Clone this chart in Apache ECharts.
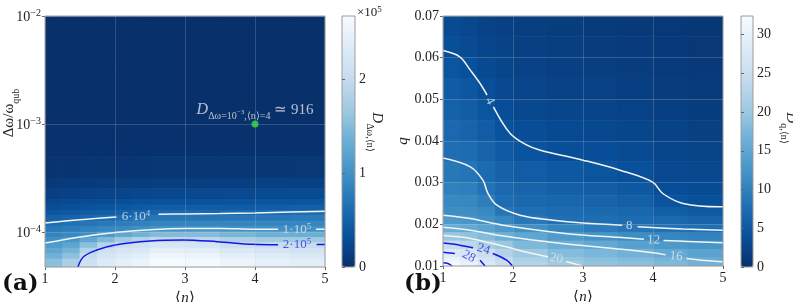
<!DOCTYPE html>
<html><head><meta charset="utf-8">
<script src="https://cdn.jsdelivr.net/npm/echarts@6/dist/echarts.min.js"></script>
<style>html,body{margin:0;padding:0;background:#fff}#c{width:793px;height:302px}</style>
</head><body><div id="c"></div>
<script>
// ================= DATA =================
// Panel (a): cell edges along <n> and along Δω/ω_qub (top -> bottom)
const nEdgesA = [1, 1.25, 1.5, 1.75, 2, 2.25, 2.5, 3, 3.5, 4, 4.5, 5];
const dwEdgesA = [1e-2, 3.16e-3, 1e-3, 5.01e-4, 3.16e-4, 2.51e-4, 2.0e-4, 1.78e-4, 1.58e-4, 1.41e-4, 1.26e-4, 1.12e-4, 1e-4, 8.91e-5, 7.94e-5, 7.08e-5, 6.31e-5, 5.62e-5, 4.74e-5];
// D_{Δω,<n>} per cell, rows top -> bottom
const valuesA = [
  [16, 18, 20, 21, 22, 23, 25, 25, 26, 27, 28],
  [196, 208, 215, 225, 235, 245, 250, 250, 260, 270, 280],
  [1400, 1500, 1600, 1700, 1800, 1950, 2200, 2200, 2300, 2300, 2400],
  [4800, 5100, 5400, 5800, 6100, 6500, 7000, 7000, 7200, 7400, 7800],
  [10200, 10800, 11500, 12400, 13300, 14200, 15000, 15000, 15500, 16000, 16500],
  [16600, 17600, 18900, 20300, 21800, 23000, 24500, 25000, 25000, 26000, 27000],
  [24000, 25700, 27600, 29600, 31600, 33500, 35000, 35000, 36000, 37000, 38000],
  [30800, 32800, 35000, 37600, 40400, 42800, 45000, 45000, 46000, 47000, 49000],
  [39500, 42000, 45000, 48300, 51700, 55000, 58000, 58000, 59000, 60000, 63000],
  [50000, 53500, 57600, 62000, 65600, 69000, 72000, 72000, 73000, 74000, 76000],
  [63400, 67000, 71000, 75500, 79400, 83000, 86000, 87000, 87000, 87000, 88000],
  [74700, 79400, 84000, 89000, 93000, 97000, 103000, 104000, 102000, 100000, 100000],
  [86000, 91800, 97600, 108000, 124000, 137500, 150000, 151000, 142000, 136000, 134000],
  [97300, 106000, 125000, 148000, 170000, 185600, 197000, 194000, 180000, 172000, 170000],
  [110000, 123000, 155000, 188000, 207000, 213000, 225000, 222000, 210000, 205000, 203000],
  [124000, 140000, 185000, 212000, 222000, 228000, 243000, 240000, 228000, 222000, 218000],
  [138000, 157000, 204000, 222000, 233000, 240000, 255000, 253000, 242000, 235000, 230000],
  [155000, 178000, 212000, 233000, 244000, 252000, 265000, 263000, 254000, 245000, 240000]
];
// Panel (b)
const nEdgesB = [1, 1.25, 1.5, 1.75, 2, 2.5, 3, 3.5, 4, 4.5, 5];
const qEdgesB = [0.07, 0.065, 0.06, 0.055, 0.05, 0.045, 0.04, 0.035, 0.03, 0.027, 0.024, 0.022, 0.02, 0.018, 0.016, 0.014, 0.012, 0.011, 0.01];
const valuesB = [
  [3.3, 2.8, 2.3, 2.0, 1.8, 1.6, 1.4, 1.2, 1.0, 0.9],
  [3.8, 3.3, 2.7, 2.3, 2.0, 1.8, 1.6, 1.4, 1.2, 1.0],
  [4.5, 3.9, 3.2, 2.7, 2.3, 2.0, 1.8, 1.6, 1.4, 1.2],
  [5.3, 4.8, 3.8, 3.1, 2.6, 2.3, 2.1, 1.9, 1.6, 1.4],
  [6.1, 5.6, 4.6, 3.6, 3.0, 2.7, 2.5, 2.2, 1.9, 1.7],
  [6.9, 6.4, 5.5, 4.2, 3.5, 3.2, 3.0, 2.7, 2.3, 2.0],
  [7.7, 7.4, 6.4, 5.2, 4.3, 3.8, 3.6, 3.3, 2.7, 2.4],
  [8.9, 8.5, 7.3, 6.2, 5.5, 4.9, 4.5, 3.9, 3.1, 2.9],
  [10.0, 9.8, 8.2, 7.0, 6.4, 5.9, 5.6, 5.0, 3.6, 3.4],
  [10.9, 10.8, 9.7, 7.6, 7.0, 6.7, 6.4, 5.9, 4.3, 3.9],
  [11.6, 11.6, 10.9, 8.6, 7.7, 7.4, 7.2, 6.8, 5.7, 5.0],
  [13.2, 12.8, 11.9, 10.8, 9.0, 7.8, 7.7, 7.5, 6.9, 6.5],
  [16.0, 15.5, 14.7, 13.2, 12.0, 10.5, 9.5, 8.8, 8.1, 7.8],
  [20.0, 19.2, 18.1, 16.4, 15.1, 13.5, 12.6, 11.6, 10.7, 10.3],
  [24.5, 23.4, 21.5, 20.0, 17.7, 16.3, 15.3, 14.3, 13.2, 12.6],
  [28.0, 27.0, 25.0, 22.5, 20.1, 18.2, 17.5, 16.7, 15.5, 14.5],
  [30.5, 29.0, 26.6, 24.3, 21.6, 19.6, 18.6, 18.0, 17.0, 15.8],
  [32.0, 30.0, 27.8, 25.0, 22.4, 20.5, 19.2, 18.7, 17.8, 16.7]
];
// Contour lines (segments broken where the inline label sits)
const contoursA = [
  {level: 6e4, segs: [[[1,1.21e-4],[1.5,1.30e-4],[2.02,1.38e-4]], [[2.62,1.46e-4],[3,1.47e-4],[3.5,1.48e-4],[4,1.50e-4],[4.5,1.53e-4],[5,1.56e-4]]]},
  {level: 1e5, segs: [[[1,7.9e-5],[1.5,9.0e-5],[2,9.9e-5],[2.5,1.05e-4],[3,1.08e-4],[3.5,1.08e-4],[4,1.06e-4],[4.33,1.06e-4]], [[4.87,1.06e-4],[5,1.06e-4]]]},
  {level: 2e5, segs: [[[1.47,4.74e-5],[1.55,5.9e-5],[1.74,6.8e-5],[2,7.58e-5],[2.5,8.26e-5],[2.97,8.44e-5],[3.46,8.13e-5],[3.97,7.69e-5],[4.33,7.62e-5]], [[4.88,7.65e-5],[5,7.65e-5]]]}
];
const contourLabelsA = [
  {n: 2.3, dw: 1.41e-4, mant: '6·10', exp: '4', level: 6e4},
  {n: 4.6, dw: 1.07e-4, mant: '1·10', exp: '5', level: 1e5},
  {n: 4.6, dw: 7.75e-5, mant: '2·10', exp: '5', level: 2e5}
];
const contoursB = [
  {level: 4, segs: [[[1,0.0617],[1.24,0.0602],[1.39,0.0570],[1.53,0.0538],[1.63,0.0510]], [[1.72,0.0482],[1.96,0.0418],[2.2,0.0390],[2.39,0.0378],[3,0.0354],[3.53,0.0330],[3.99,0.0302],[4.14,0.0274],[4.43,0.0250],[4.96,0.0242],[5,0.0242]]]},
  {level: 8, segs: [[[1,0.0359],[1.39,0.0338],[1.57,0.0306],[1.64,0.0275],[1.77,0.0246],[2.1,0.0222],[2.57,0.0210],[3,0.0203],[3.56,0.0198]], [[3.78,0.0194],[4.43,0.0189],[5,0.0186]]]},
  {level: 12, segs: [[[1,0.0222],[1.39,0.0214],[1.86,0.0198],[2.81,0.0177],[3.5,0.0169],[3.87,0.0164]], [[4.15,0.0161],[4.5,0.0159],[5,0.0156]]]},
  {level: 16, segs: [[[1,0.0193],[1.39,0.0186],[1.86,0.0172],[2.4,0.0160],[2.8,0.0152],[3.5,0.0141],[4,0.0132],[4.18,0.0127]], [[4.48,0.0118],[4.75,0.0113],[5,0.0110]]]},
  {level: 20, segs: [[[1,0.0173],[1.39,0.0166],[1.9,0.0146],[2.2,0.0133],[2.5,0.0122]], [[2.76,0.0111],[2.99,0.0100]]]},
  {level: 24, segs: [[[1,0.0155],[1.24,0.0150],[1.43,0.0144]], [[1.71,0.0130],[1.91,0.0114],[1.99,0.0100]]]},
  {level: 28, segs: [[[1,0.0133],[1.17,0.0130]], [[1.53,0.0114],[1.6,0.0100]]]},
  {level: 32, segs: [[[1,0.0108],[1.07,0.0106],[1.13,0.0100]]]}
];
const contourLabelsB = [
  {n: 1.67, q: 0.0496, text: '4', level: 4},
  {n: 3.66, q: 0.0196, text: '8', level: 8},
  {n: 4.01, q: 0.0162, text: '12', level: 12},
  {n: 4.33, q: 0.0123, text: '16', level: 16},
  {n: 2.62, q: 0.0118, text: '20', level: 20},
  {n: 1.58, q: 0.0140, text: '24', level: 24},
  {n: 1.37, q: 0.0123, text: '28', level: 28}
];
const blueLevelsA = [2e5];
const blueLevelsB = [24, 28, 32];
// highlighted point
const pointA = {n: 4, dw: 1e-3, D: 916};
// ticks
const nTicks = [1, 2, 3, 4, 5];
const dwTicks = [1e-4, 1e-3, 1e-2];
const qTicks = [0.01, 0.02, 0.03, 0.04, 0.05, 0.06, 0.07];
const cbarTicksA = [0, 1, 2];        // ×10^5
const cbarTicksB = [0, 5, 10, 15, 20, 25, 30];
const cbarMaxA = 2.68e5, cbarMaxB = 32.4;

// ================= STYLE =================
const FONT = 'Liberation Serif';
const BLUES = ['#08306b','#08519c','#2171b5','#4292c6','#6baed6','#9ecae1','#c6dbef','#deebf7','#f7fbff'];
const WHITE = '#f4f4f4', WHITE_TXT = '#e6e6e6', BLUE = '#1616e4', BLUE_TXT = '#3030e0';
const GRIDLINE = 'rgba(210,210,210,0.22)';
const TXT = '#222';
const labelRot = {4: -62, 8: 0, 12: -2, 16: -6, 20: -12, 24: -18, 28: -28};

function buildCells(xE, yE, vals) {
  const out = [];
  for (let r = 0; r < vals.length; r++)
    for (let c = 0; c < vals[r].length; c++)
      out.push([xE[c], xE[c + 1], yE[r + 1], yE[r], vals[r][c]]);
  return out;
}
function renderCell(params, api) {
  const a = api.coord([api.value(0), api.value(3)]);
  const b = api.coord([api.value(1), api.value(2)]);
  const col = api.visual('color');
  return {type: 'rect', shape: {x: Math.min(a[0], b[0]), y: Math.min(a[1], b[1]), width: Math.abs(b[0] - a[0]), height: Math.abs(b[1] - a[1])},
    style: {fill: col, stroke: col, lineWidth: 0.8}};
}
const supRich = {
  b: {fontFamily: FONT, fontSize: 14, color: TXT, verticalAlign: 'bottom', lineHeight: 16},
  s: {fontFamily: FONT, fontSize: 10, color: TXT, verticalAlign: 'bottom', lineHeight: 10, padding: [0, 0, 6, 0]}
};
const tickLabel = {fontFamily: FONT, fontSize: 14, color: TXT};
const nameRich = {
  a: {fontFamily: FONT, fontSize: 15, color: TXT},
  i: {fontFamily: FONT, fontSize: 15, color: TXT, fontStyle: 'italic'}
};

const series = [
  {type: 'custom', xAxisIndex: 0, yAxisIndex: 0, data: buildCells(nEdgesA, dwEdgesA, valuesA), renderItem: renderCell,
   encode: {x: [0, 1], y: [2, 3]}, z: 1, silent: true, clip: true},
  {type: 'custom', xAxisIndex: 1, yAxisIndex: 1, data: buildCells(nEdgesB, qEdgesB, valuesB), renderItem: renderCell,
   encode: {x: [0, 1], y: [2, 3]}, z: 1, silent: true, clip: true}
];
function addContours(list, blues, xi) {
  list.forEach(ct => {
    const col = blues.includes(ct.level) ? BLUE : WHITE;
    ct.segs.forEach(seg => series.push({type: 'line', xAxisIndex: xi, yAxisIndex: xi, data: seg, smooth: 0.35,
      symbol: 'none', lineStyle: {color: col, width: 1.5}, z: 3, silent: true, clip: true}));
  });
}
addContours(contoursA, blueLevelsA, 0);
addContours(contoursB, blueLevelsB, 1);

const labRich = (col) => ({
  t: {fontFamily: FONT, fontSize: 13, color: col, verticalAlign: 'bottom', lineHeight: 14},
  s: {fontFamily: FONT, fontSize: 9, color: col, verticalAlign: 'bottom', lineHeight: 9, padding: [0, 0, 5, 0]}
});
series.push({type: 'scatter', xAxisIndex: 0, yAxisIndex: 0, symbolSize: 0, z: 4, silent: true,
  data: contourLabelsA.map(l => {
    const col = blueLevelsA.includes(l.level) ? BLUE_TXT : WHITE_TXT;
    return {value: [l.n, l.dw], label: {show: true, position: 'inside', formatter: '{t|' + l.mant + '}{s|' + l.exp + '}', rich: labRich(col)}};
  })});
series.push({type: 'scatter', xAxisIndex: 1, yAxisIndex: 1, symbolSize: 0, z: 4, silent: true,
  data: contourLabelsB.map(l => {
    const col = blueLevelsB.includes(l.level) ? BLUE_TXT : WHITE_TXT;
    return {value: [l.n, l.q], label: {show: true, position: 'inside', formatter: l.text, rotate: labelRot[l.level] || 0,
      color: col, fontFamily: FONT, fontSize: 13}};
  })});
// highlighted point + annotation
series.push({type: 'scatter', xAxisIndex: 0, yAxisIndex: 0, symbolSize: 7, z: 5, silent: true,
  itemStyle: {color: '#3de03d'},
  data: [[pointA.n, pointA.dw]],
  label: {show: true, position: 'top', distance: 4, offset: [0, 5],
    formatter: '{D|D}{sb|Δω=10}{ss|−3}{sb|,⟨n⟩=4}{eq| ≃ ' + pointA.D + '}',
    rich: {
      D: {fontFamily: FONT, fontSize: 16, fontStyle: 'italic', color: '#e4e4e4', verticalAlign: 'bottom', lineHeight: 16, padding: [0, 0, 4, 0]},
      sb: {fontFamily: FONT, fontSize: 10, color: '#e4e4e4', verticalAlign: 'bottom', lineHeight: 11},
      ss: {fontFamily: FONT, fontSize: 7, color: '#e4e4e4', verticalAlign: 'bottom', lineHeight: 7, padding: [0, 0, 6, 0]},
      eq: {fontFamily: FONT, fontSize: 15, color: '#e4e4e4', verticalAlign: 'bottom', lineHeight: 16, padding: [0, 0, 4, 0]}
    }}});

const gridFrame = {show: true, z: 10, backgroundColor: 'rgba(0,0,0,0)', borderColor: '#9c9c9c', borderWidth: 1,
  containLabel: false, outerBoundsMode: 'none'};
const option = {
  animation: false,
  grid: [
    Object.assign({left: 45, top: 16, width: 280, height: 251}, gridFrame),
    Object.assign({left: 443, top: 16, width: 280, height: 250}, gridFrame),
    Object.assign({left: 342, top: 16, width: 13, height: 251}, gridFrame),
    Object.assign({left: 741, top: 16, width: 12, height: 251}, gridFrame)
  ],
  xAxis: [0, 1].map(g => ({gridIndex: g, type: 'value', min: nTicks[0], max: nTicks[nTicks.length - 1], interval: 1, z: 5,
      axisLine: {show: false}, axisTick: {show: true, length: 3, lineStyle: {color: '#666'}},
      axisLabel: Object.assign({margin: 5}, tickLabel),
      splitLine: {show: true, lineStyle: {color: GRIDLINE, width: 1}},
      name: '{a|⟨}{i|n}{a|⟩}', nameLocation: 'middle', nameGap: 17, nameTextStyle: {rich: nameRich}}))
    .concat([2, 3].map(g => ({gridIndex: g, type: 'value', min: 0, max: 1, show: false}))),
  yAxis: [
    {gridIndex: 0, type: 'log', logBase: 10, min: dwEdgesA[dwEdgesA.length - 1], max: dwTicks[dwTicks.length - 1], z: 5,
     axisLine: {show: false}, axisTick: {show: true, length: 3, lineStyle: {color: '#666'}},
     axisLabel: {margin: 4, showMinLabel: false, rich: supRich, formatter: v => {
       const e = Math.log10(v), r = Math.round(e);
       if (Math.abs(e - r) > 1e-6) return '';
       return '{b|10}{s|' + (r < 0 ? '−' + (-r) : r) + '}';
     }},
     splitLine: {show: true, lineStyle: {color: GRIDLINE, width: 1}}},
    {gridIndex: 1, type: 'value', min: qTicks[0], max: qTicks[qTicks.length - 1], interval: 0.01, z: 5,
     axisLine: {show: false}, axisTick: {show: true, length: 3, lineStyle: {color: '#666'}},
     axisLabel: Object.assign({margin: 4, formatter: v => v.toFixed(2)}, tickLabel),
     splitLine: {show: true, lineStyle: {color: GRIDLINE, width: 1}},
     name: '{i|q}', nameLocation: 'middle', nameGap: 29, nameRotate: 90, nameTextStyle: {rich: nameRich}},
    {gridIndex: 2, type: 'value', position: 'right', min: 0, max: cbarMaxA / 1e5, interval: 1, z: 11,
     axisLine: {show: false}, axisTick: {show: true, length: 3, lineStyle: {color: '#666'}},
     axisLabel: Object.assign({margin: 4, showMaxLabel: false, formatter: v => cbarTicksA.includes(v) ? String(v) : ''}, tickLabel),
     splitLine: {show: false}},
    {gridIndex: 3, type: 'value', position: 'right', min: 0, max: cbarMaxB, interval: 5, z: 11,
     axisLine: {show: false}, axisTick: {show: true, length: 3, lineStyle: {color: '#666'}},
     axisLabel: Object.assign({margin: 4, showMaxLabel: false, formatter: v => cbarTicksB.includes(v) ? String(v) : ''}, tickLabel),
     splitLine: {show: false}}
  ],
  visualMap: [
    {type: 'continuous', seriesIndex: 0, dimension: 4, min: 0, max: cbarMaxA, inRange: {color: BLUES},
     left: 342, top: 16, itemWidth: 13, itemHeight: 251, calculable: false, padding: 0, hoverLink: false, text: null, showLabel: false},
    {type: 'continuous', seriesIndex: 1, dimension: 4, min: 0, max: cbarMaxB, inRange: {color: BLUES},
     left: 741, top: 16, itemWidth: 12, itemHeight: 251, calculable: false, padding: 0, hoverLink: false, text: null, showLabel: false}
  ],
  graphic: [
    {type: 'text', x: 13, y: 113, rotation: Math.PI / 2, style: {text: '{t|Δω/ω}{s|qub}', align: 'center', verticalAlign: 'middle',
      rich: {t: {fontFamily: FONT, fontSize: 15, fill: TXT, verticalAlign: 'bottom', lineHeight: 16, padding: [0, 0, 4, 0]},
             s: {fontFamily: FONT, fontSize: 10, fill: TXT, verticalAlign: 'bottom', lineHeight: 11}}}},
    {type: 'text', x: 373, y: 132, rotation: -Math.PI / 2, style: {text: '{t|D}{s|Δω,⟨n⟩}', align: 'center', verticalAlign: 'middle',
      rich: {t: {fontFamily: FONT, fontSize: 15, fontStyle: 'italic', fill: TXT, verticalAlign: 'bottom', lineHeight: 16, padding: [0, 0, 4, 0]},
             s: {fontFamily: FONT, fontSize: 10, fill: TXT, verticalAlign: 'bottom', lineHeight: 11}}}},
    {type: 'text', x: 787, y: 128, rotation: -Math.PI / 2, style: {text: '{t|D}{s|q,⟨n⟩}', align: 'center', verticalAlign: 'middle',
      rich: {t: {fontFamily: FONT, fontSize: 15, fontStyle: 'italic', fill: TXT, verticalAlign: 'bottom', lineHeight: 16, padding: [0, 0, 4, 0]},
             s: {fontFamily: FONT, fontSize: 10, fill: TXT, verticalAlign: 'bottom', lineHeight: 11}}}},
    {type: 'text', x: 357, y: 5, style: {text: '{b|×10}{s|5}',
      rich: {b: {fontFamily: FONT, fontSize: 13, fill: TXT, verticalAlign: 'bottom', lineHeight: 14},
             s: {fontFamily: FONT, fontSize: 9, fill: TXT, verticalAlign: 'bottom', lineHeight: 9, padding: [0, 0, 5, 0]}}}},
    {type: 'text', x: 2, y: 273, style: {text: '(a)', font: 'bold 23px "DejaVu Serif"', fill: '#111'}},
    {type: 'text', x: 404, y: 273, style: {text: '(b)', font: 'bold 23px "DejaVu Serif"', fill: '#111'}}
  ],
  series: series
};
const chart = echarts.init(document.getElementById('c'), null, {renderer: 'canvas'});
chart.setOption(option);
</script>
</body></html>
